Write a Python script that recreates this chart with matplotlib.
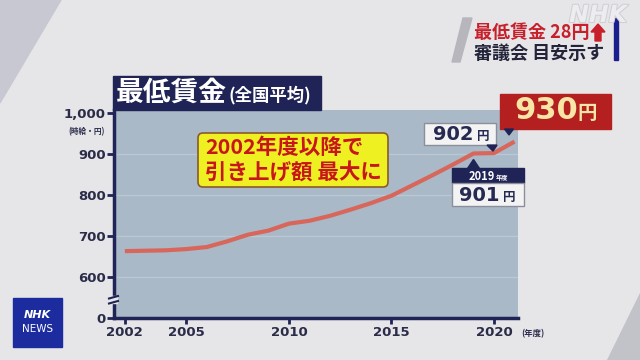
import matplotlib
matplotlib.use('Agg')
import matplotlib.pyplot as plt
from matplotlib.patches import Rectangle, Polygon, FancyBboxPatch
import matplotlib.patheffects as pe

plt.rcParams['font.family'] = ['Noto Sans CJK JP', 'DejaVu Sans']

# data (national weighted average minimum wage, yen/hour)
years = list(range(2002, 2022))
wage = [663, 664, 665, 668, 673, 687, 703, 713, 730, 737,
        749, 764, 780, 798, 823, 848, 874, 901, 902, 930]
ytick_vals = [500, 600, 700, 800, 900, 1000]
ytick_labels = ['0', '600', '700', '800', '900', '1,000']
xtick_vals = [2002, 2005, 2010, 2015, 2020]

navy = '#1f2355'
textc = '#2a2c48'
numfont = 'DejaVu Sans'
W, H = 640, 360

fig = plt.figure(figsize=(6.4, 3.6), dpi=100)
fig.patch.set_facecolor('#e6e6e9')

# background layer in pixel coords
bg = fig.add_axes([0, 0, 1, 1], zorder=-1)
bg.set_xlim(0, W)
bg.set_ylim(H, 0)
bg.axis('off')
bg.add_patch(Polygon([(0, 0), (61, 0), (0, 103)], color='#c8c8d3'))
bg.add_patch(Polygon([(640, 293), (640, 360), (607, 360)], color='#c2c2c9'))

# main chart
ax = fig.add_axes([114 / W, 1 - 318 / H, (518 - 114) / W, (318 - 110) / H], zorder=1)
ax.set_facecolor('#a9b9c7')
ax.set_xlim(2001.47, 2021.17)
ax.set_ylim(500, 1007)
ax.plot(years, wage, color='#d8665b', lw=3, solid_capstyle='butt', clip_on=False, zorder=3)

for v in ytick_vals[1:-1]:
    ax.axhline(v, color='#bac8d3', lw=1, zorder=1)

for s in ['top', 'right']:
    ax.spines[s].set_visible(False)
for s in ['left', 'bottom']:
    ax.spines[s].set_color(navy)
    ax.spines[s].set_linewidth(2.5)

ax.set_yticks(ytick_vals)
ax.set_yticklabels(ytick_labels, fontweight='bold', family=numfont)
ax.set_xticks(xtick_vals)
ax.set_xticklabels([str(x) for x in xtick_vals], fontweight='bold', family=numfont)
ax.tick_params(axis='y', length=5, width=2, color=navy, pad=1, labelsize=9.5, labelcolor=textc)
ax.tick_params(axis='x', length=4, width=2, color=navy, pad=2, labelsize=9.5, labelcolor=textc)

fig.canvas.draw()


def pix(x, y):
    p = ax.transData.transform((x, y))
    return p[0], H - p[1]


# overlay in pixel coords
ov = fig.add_axes([0, 0, 1, 1], zorder=5)
ov.set_xlim(0, W)
ov.set_ylim(H, 0)
ov.axis('off')
ov.patch.set_alpha(0)

# axis break
ov.add_patch(Rectangle((109, 296), 8, 7, color='#e6e6e9', zorder=2))
ov.plot([109, 118], [298.5, 296], color=navy, lw=1.5, zorder=3)
ov.plot([109, 118], [303.5, 301], color=navy, lw=1.5, zorder=3)

# axis unit labels
ov.text(87, 132, '(時給・円)', fontsize=5.5, fontweight='bold', color=textc, ha='center', va='center')
ov.text(521, 334, '(年度)', fontsize=6, fontweight='bold', color=textc, ha='left', va='center')

# title bar
ov.add_patch(Rectangle((113, 76), 208, 34, color=navy))
ov.text(116, 93, '最低賃金', fontsize=20, fontweight='bold', color='white', ha='left', va='center')
ov.text(229, 95, '(全国平均)', fontsize=12.5, fontweight='bold', color='white', ha='left', va='center')

# yellow callout
ov.add_patch(FancyBboxPatch((198, 133), 190, 54, boxstyle='round,pad=0,rounding_size=5',
                            fc='#eef021', ec='#8a5a2a', lw=1.2))
ov.text(205, 148, '2002年度以降で', fontsize=15.5, fontweight='bold', color='#c8161d', ha='left', va='center')
ov.text(205, 173, '引き上げ額 最大に', fontsize=15.5, fontweight='bold', color='#c8161d', ha='left', va='center')

# 902 label (2020)
x0, y0 = pix(years[-2], wage[-2])
ov.add_patch(Rectangle((x0 - 70, y0 - 30), 72, 22, fc='#f3f3f3', ec='#8c8e9c', lw=1))
ov.add_patch(Polygon([(x0 - 7, y0 - 8), (x0 + 3, y0 - 8), (x0 - 1, y0 - 2)], color=navy))
ov.text(x0 - 41, y0 - 19, str(wage[-2]), fontsize=14, fontweight='bold', color='#262a52',
        ha='center', va='center', family=numfont)
ov.text(x0 - 11, y0 - 17, '円', fontsize=9, fontweight='bold', color='#262a52', ha='center', va='center')

# 901 label (2019)
x1, y1 = pix(years[-3], wage[-3])
ov.add_patch(Polygon([(x1 - 6, y1 + 15), (x1 + 6, y1 + 15), (x1, y1 + 6)], color=navy))
ov.add_patch(Rectangle((x1 - 21, y1 + 15), 72, 15, color=navy))
ov.add_patch(Rectangle((x1 - 21, y1 + 30), 72, 23, fc='#f3f3f3', ec='#8c8e9c', lw=1))
ov.text(x1 + 8, y1 + 23, str(years[-3]), fontsize=8, fontweight='bold', color='white', ha='center', va='center')
ov.text(x1 + 29, y1 + 24, '年度', fontsize=4.5, fontweight='bold', color='white', ha='center', va='center')
ov.text(x1 + 6, y1 + 42, str(wage[-3]), fontsize=14, fontweight='bold', color='#262a52',
        ha='center', va='center', family=numfont)
ov.text(x1 + 36, y1 + 44, '円', fontsize=9, fontweight='bold', color='#262a52', ha='center', va='center')

# 930 label (2021)
x2, y2 = pix(years[-1], wage[-1])
ov.add_patch(Rectangle((x2 - 14.5, y2 - 47.6), 111, 35, color='#b3201f'))
ov.add_patch(Polygon([(x2 - 10, y2 - 12.6), (x2 - 1, y2 - 12.6), (x2 - 5.5, y2 - 6.6)], color=navy))
ov.text(x2 + 32, y2 - 30.6, str(wage[-1]), fontsize=22, fontweight='bold', color='#f7e6a6',
        ha='center', va='center', family=numfont)
ov.text(x2 + 73, y2 - 28.5, '円', fontsize=14, fontweight='bold', color='#f7e6a6', ha='center', va='center')

# top-right caption
ov.add_patch(Polygon([(463, 18), (472, 18), (460, 62), (452, 62)], color='#b6b6bc'))
ov.text(589, 33, '最低賃金 28円', fontsize=13, fontweight='bold', color='#c8202a', ha='right', va='center')
ov.add_patch(Polygon([(598, 24), (605, 32), (601, 32), (601, 41), (595, 41), (595, 32), (591, 32)],
                     color='#c8202a'))
ov.text(604, 53, '審議会 目安示す', fontsize=13, fontweight='bold', color='#23233a', ha='right', va='center')
ov.add_patch(Rectangle((614, 18), 4, 42, color='#1a1f8c'))

# watermark
ov.text(598, 15, 'NHK', fontsize=17, fontweight='bold', fontstyle='italic', color='#ededf0',
        ha='center', va='center', family=numfont,
        path_effects=[pe.withStroke(linewidth=1.5, foreground='#cfcfd5')])

# NHK NEWS logo
ov.add_patch(Rectangle((13, 298), 49, 49, color='#1c2c9f'))
ov.text(37.5, 315, 'NHK', fontsize=8, fontweight='bold', fontstyle='italic', color='white', ha='center', va='center',
        family=numfont)
ov.text(37.5, 329, 'NEWS', fontsize=7.5, color='white', ha='center', va='center', family=numfont)

fig.savefig('out.png', dpi=100)
